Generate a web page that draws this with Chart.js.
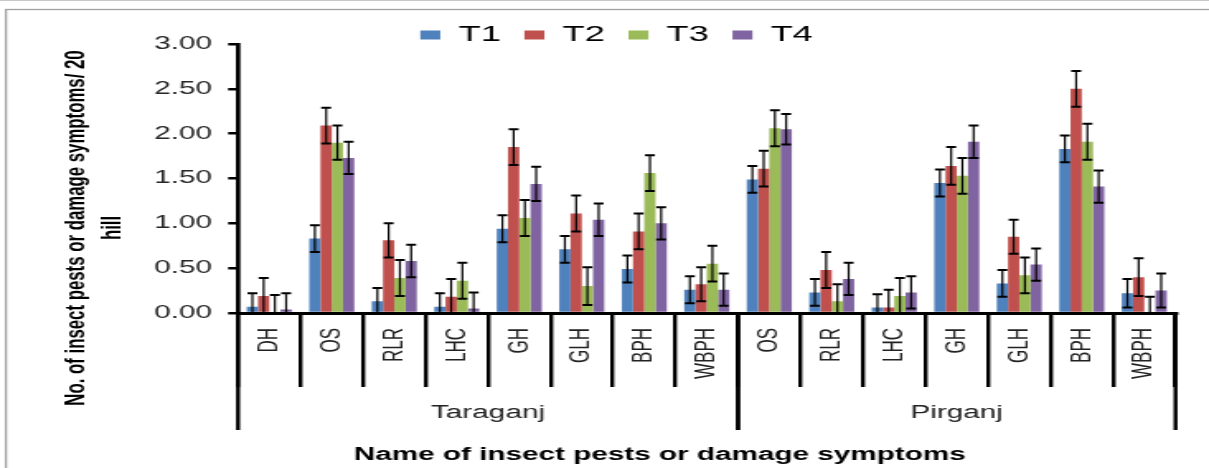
<!DOCTYPE html>
<html>
<head>
<meta charset="utf-8">
<title>Insect pests or damage symptoms per 20 hill</title>
<script src="https://cdn.jsdelivr.net/npm/chart.js@4/dist/chart.umd.min.js"></script>
<style>
    html, body { margin: 0; padding: 0; background: #fff; }
</style>
</head>
<body>
<!-- drawn narrow and stretched sideways, like the source figure -->
<canvas id="pestChart" width="733" height="468" style="width:1209px;height:468px"></canvas>
<script>
// ---- data ----
const categories = ['DH', 'OS', 'RLR', 'LHC', 'GH', 'GLH', 'BPH', 'WBPH',
                    'OS', 'RLR', 'LHC', 'GH', 'GLH', 'BPH', 'WBPH'];
const groupNames = ['Taraganj', 'Pirganj'];
const groupSizes = [8, 7];
const seriesNames = ['T1', 'T2', 'T3', 'T4'];

const t1 = [0.07, 0.83, 0.13, 0.07, 0.94, 0.71, 0.49, 0.26, 1.49, 0.23, 0.06, 1.45, 0.33, 1.83, 0.22];
const t2 = [0.19, 2.09, 0.81, 0.18, 1.85, 1.11, 0.91, 0.32, 1.61, 0.48, 0.06, 1.64, 0.85, 2.50, 0.40];
const t3 = [0.00, 1.90, 0.39, 0.36, 1.06, 0.30, 1.56, 0.55, 2.06, 0.13, 0.19, 1.53, 0.42, 1.91, 0.00];
const t4 = [0.04, 1.73, 0.58, 0.05, 1.44, 1.04, 1.00, 0.26, 2.05, 0.38, 0.23, 1.91, 0.54, 1.41, 0.25];

// standard error bars
const t1Err = [0.15, 0.15, 0.15, 0.15, 0.15, 0.15, 0.15, 0.15, 0.15, 0.15, 0.15, 0.15, 0.15, 0.15, 0.16];
const t2Err = [0.20, 0.20, 0.19, 0.20, 0.20, 0.20, 0.20, 0.19, 0.20, 0.20, 0.20, 0.21, 0.19, 0.20, 0.21];
const t3Err = [0.20, 0.19, 0.20, 0.20, 0.20, 0.21, 0.20, 0.20, 0.20, 0.19, 0.20, 0.20, 0.20, 0.20, 0.18];
const t4Err = [0.18, 0.18, 0.18, 0.18, 0.19, 0.18, 0.18, 0.18, 0.17, 0.18, 0.18, 0.18, 0.18, 0.18, 0.19];

const yTicks = [0, 0.5, 1, 1.5, 2, 2.5, 3];
const yTitle = ['No. of insect pests or damage symptoms/ 20', 'hill'];
const xTitle = 'Name of insect pests or damage symptoms';

// ---- styling ----
const FONT = "'Liberation Sans', Arial, sans-serif";
const seriesColors = ['#4F81BD', '#C0504D', '#9BBB59', '#8064A2'];
const seriesValues = [t1, t2, t3, t4];
const seriesErrors = [t1Err, t2Err, t3Err, t4Err];

Chart.defaults.font.family = FONT;
Chart.defaults.color = '#222';

/**
 * White background plus the thin grey frame round the figure
 */
const figureFrame = {
    id: 'figureFrame',
    beforeDraw(chart) {
        const ctx = chart.ctx;
        ctx.save();
        ctx.fillStyle = '#fff';
        ctx.fillRect(0, 0, chart.width, chart.height);
        ctx.fillStyle = '#c8c8c8';
        ctx.fillRect(0, 0, chart.width, 1);
        ctx.strokeStyle = '#a0a0a0';
        ctx.lineWidth = 1.3;
        ctx.strokeRect(3.6, 9.5, chart.width + 20, chart.height + 20);
        ctx.restore();
    },
    // the legend sits partly beside the top of the plot, so trim its box
    beforeLayout(chart) {
        const legend = chart.legend;
        if (!legend || legend._trimmed) return;
        const fit = legend.fit;
        legend.fit = function() {
            fit.call(this);
            this.height = 34.3;
        };
        legend._trimmed = true;
    }
};

/**
 * Error bars with caps, placed through the y scale
 */
const errorBars = {
    id: 'errorBars',
    afterDatasetsDraw(chart) {
        const ctx = chart.ctx;
        const yScale = chart.scales.y;
        ctx.save();
        ctx.strokeStyle = '#000';
        chart.data.datasets.forEach((ds, i) => {
            const meta = chart.getDatasetMeta(i);
            meta.data.forEach((bar, j) => {
                const v = ds.data[j];
                const e = ds.errors[j];
                const top = yScale.getPixelForValue(v + e);
                const bottom = yScale.getPixelForValue(Math.max(v - e, 0));
                ctx.lineWidth = 1.2;
                ctx.beginPath();
                ctx.moveTo(bar.x, top);
                ctx.lineTo(bar.x, bottom);
                ctx.stroke();
                ctx.lineWidth = 2;
                ctx.beginPath();
                ctx.moveTo(bar.x - 3, top);
                ctx.lineTo(bar.x + 3, top);
                ctx.moveTo(bar.x - 3, bottom);
                ctx.lineTo(bar.x + 3, bottom);
                ctx.stroke();
            });
        });
        ctx.restore();
    }
};

/**
 * Second level of the category axis (location groups) and both axis titles
 */
const axisText = {
    id: 'axisText',
    afterDraw(chart) {
        const ctx = chart.ctx;
        const xScale = chart.scales.x;
        const half = (xScale.getPixelForValue(1) - xScale.getPixelForValue(0)) / 2;
        const axisY = xScale.top;
        ctx.save();
        ctx.strokeStyle = '#000';
        ctx.lineWidth = 2.4;
        ctx.fillStyle = '#222';
        ctx.font = '18px ' + FONT;
        ctx.textAlign = 'center';
        ctx.textBaseline = 'middle';
        let start = 0;
        groupNames.forEach((name, g) => {
            const end = start + groupSizes[g] - 1;
            const left = xScale.getPixelForValue(start) - half;
            const right = xScale.getPixelForValue(end) + half;
            ctx.beginPath();
            ctx.moveTo(left, axisY);
            ctx.lineTo(left, axisY + 117);
            ctx.moveTo(right, axisY);
            ctx.lineTo(right, axisY + 117);
            ctx.stroke();
            ctx.fillText(name, (left + right) / 2, axisY + 100);
            start = end + 1;
        });

        // x title
        ctx.fillStyle = '#000';
        ctx.font = 'bold 18px ' + FONT;
        ctx.fillText(xTitle, 400, axisY + 142);

        // y title, two lines reading bottom to top
        ctx.font = 'bold 16.8px ' + FONT;
        ctx.translate(46, 228);
        ctx.rotate(-Math.PI / 2);
        yTitle.forEach((line, k) => {
            ctx.fillText(line, 0, k * 22);
        });
        ctx.restore();
    }
};

const datasets = seriesNames.map((name, i) => ({
    label: name,
    data: seriesValues[i],
    errors: seriesErrors[i],
    backgroundColor: seriesColors[i],
    borderWidth: 0,
    categoryPercentage: 0.72,
    barPercentage: 1.0
}));

const config = {
    type: 'bar',
    data: {
        labels: categories,
        datasets: datasets
    },
    options: {
        responsive: false,
        devicePixelRatio: 1,
        animation: false,
        layout: {
            padding: { left: 35, right: 20.3, top: 9.7, bottom: 0 }
        },
        plugins: {
            legend: {
                position: 'top',
                labels: {
                    boxWidth: 12.1,
                    boxHeight: 9,
                    padding: 14.3,
                    color: '#000',
                    font: { size: 22 }
                }
            },
            tooltip: { enabled: false }
        },
        scales: {
            x: {
                type: 'category',
                offset: true,
                grid: {
                    offset: true,
                    drawOnChartArea: false,
                    drawTicks: true,
                    tickLength: 74,
                    color: '#000',
                    lineWidth: 2.4
                },
                border: { display: true, color: '#000', width: 3 },
                ticks: {
                    autoSkip: false,
                    minRotation: 90,
                    maxRotation: 90,
                    padding: -59,
                    color: '#222',
                    font: { size: 17 }
                },
                afterFit(scale) {
                    scale.height = 155;
                }
            },
            y: {
                min: 0,
                max: 3,
                afterBuildTicks(scale) {
                    scale.ticks = yTicks.map(v => ({ value: v }));
                },
                grid: {
                    drawOnChartArea: false,
                    tickLength: 6,
                    color: '#000',
                    lineWidth: 2.5
                },
                border: { color: '#000', width: 2.7 },
                ticks: {
                    padding: 9.8,
                    color: '#262626',
                    font: { size: 18 },
                    callback: v => Number(v).toFixed(2)
                },
                afterFit(scale) {
                    scale.width = 109.3;
                }
            }
        }
    },
    plugins: [figureFrame, errorBars, axisText]
};

new Chart(document.getElementById('pestChart'), config);
</script>
</body>
</html>
